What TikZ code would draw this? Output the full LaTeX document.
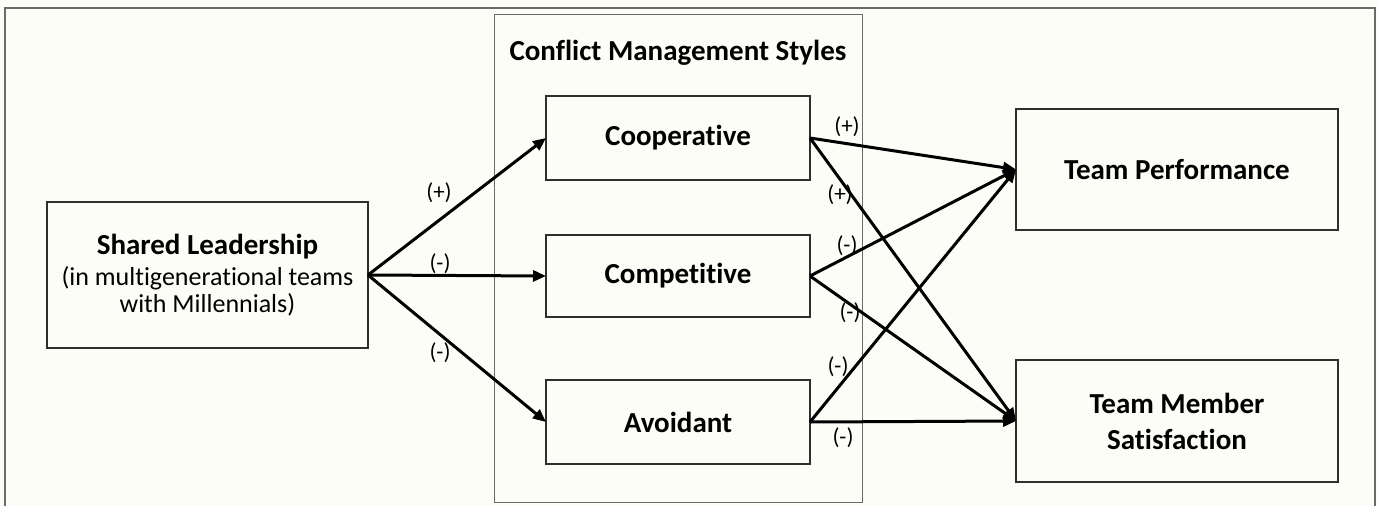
\documentclass[tikz,border=0pt]{standalone}
\usepackage{fontspec}
\setmainfont{Carlito}[Ligatures={NoCommon,NoContextual}]
\usetikzlibrary{arrows.meta}
\definecolor{paper}{HTML}{FDFDF7}
\definecolor{boxline}{HTML}{2E2E2E}
\definecolor{frameline}{HTML}{6A6A6A}
\begin{document}
\begin{tikzpicture}[x=1pt,y=-1pt,
  construct/.style={draw=boxline, line width=1.8pt, fill=paper, inner sep=0pt, outer sep=0pt,
    align=center, font=\fontsize{29}{36}\selectfont\bfseries},
  link/.style={line width=3pt, -{Triangle[length=13pt,width=11pt]}},
  sign/.style={font=\fontsize{23}{26}\selectfont, inner sep=0pt}]
  % page and outer frame
  \fill[paper] (0,0) rectangle (1378,506);
  \useasboundingbox (0,0) rectangle (1378,506);
  \draw[frameline, line width=1.4pt] (5,506) -- (5,8) -- (1375,8) -- (1375,506);
  % grouping box for the conflict management styles
  \draw[frameline, line width=1pt] (494,14) rectangle (862,502);
  \node[font=\fontsize{29}{34}\selectfont\bfseries] (grp) at (678,53) {Conflict Management Styles};

  % constructs
  \node[construct, minimum width=321pt, minimum height=146pt] (sl) at (207.5,275)
    {Shared Leadership\\[-5pt]
     \fontsize{26}{28}\selectfont\mdseries (in multigenerational teams\\[-9pt]
     \fontsize{26}{28}\selectfont\mdseries with Millennials)};
  \node[construct, minimum width=264pt, minimum height=84pt] (coop) at (678,138) {Cooperative};
  \node[construct, minimum width=264pt, minimum height=82pt] (comp) at (678,276) {Competitive};
  \node[construct, minimum width=264pt, minimum height=84pt] (avoid) at (678,422) {Avoidant};
  \node[construct, minimum width=322pt, minimum height=121pt] (perf) at (1177,169.5) {Team Performance};
  \node[construct, minimum width=322pt, minimum height=122pt] (sat) at (1177,421) {Team Member\\Satisfaction};

  % paths from shared leadership to the styles
  \draw[link] (sl.east) -- (coop.west);
  \draw[link] (sl.east) -- (comp.west);
  \draw[link] (sl.east) -- (avoid.west);
  % paths from the styles to the outcomes
  \draw[link] (coop.east) -- (perf.west);
  \draw[link] (coop.east) -- (sat.west);
  \draw[link] (comp.east) -- (perf.west);
  \draw[link] (comp.east) -- (sat.west);
  \draw[link] (avoid.east) -- (perf.west);
  \draw[link] (avoid.east) -- (sat.west);

  % signs of the hypothesised effects
  \node[sign] (s1) at (439,193) {(+)};
  \node[sign] (s2) at (440,264) {(-)};
  \node[sign] (s3) at (440,353) {(-)};
  \node[sign] (s4) at (847,127) {(+)};
  \node[sign] (s5) at (840,195) {(+)};
  \node[sign] (s6) at (847,246) {(-)};
  \node[sign] (s7) at (850,313) {(-)};
  \node[sign] (s8) at (838,367) {(-)};
  \node[sign] (s9) at (843,438) {(-)};
\end{tikzpicture}
\end{document}
